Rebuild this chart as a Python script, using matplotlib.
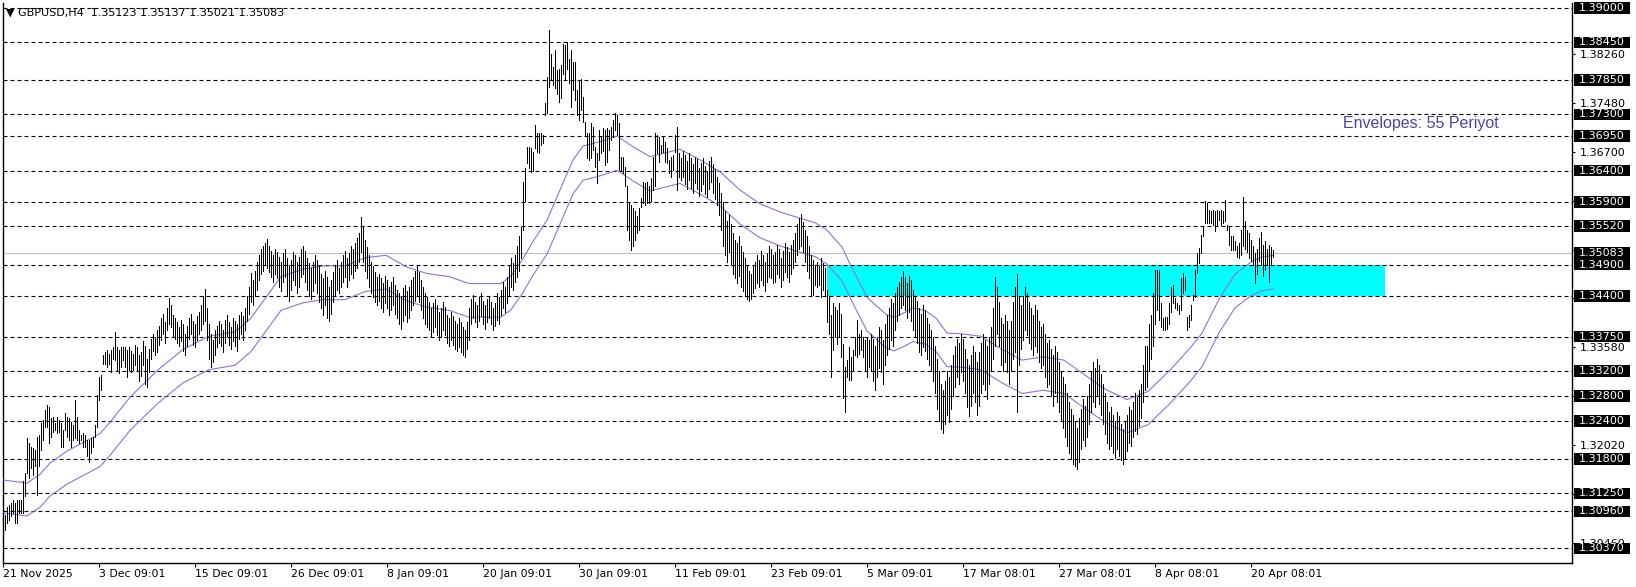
import numpy as np
import matplotlib
matplotlib.use('Agg')
import matplotlib.pyplot as plt
from matplotlib.patches import Rectangle
from matplotlib.transforms import blended_transform_factory

plt.rcParams['font.family'] = ['DejaVu Sans']

# --- data (prices in 1e-4 units, one entry per H4 bar) ---
bar_high = [
    13093, 13090, 13103, 13106, 13109, 13114, 13109, 13114, 13114, 13114,
    13144, 13157, 13213, 13205, 13199, 13197, 13194, 13215, 13218, 13237,
    13242, 13258, 13266, 13263, 13245, 13247, 13237, 13247, 13242, 13237,
    13226, 13253, 13247, 13245, 13239, 13234, 13274, 13247, 13226, 13218,
    13221, 13218, 13210, 13210, 13213, 13215, 13234, 13282, 13311, 13314,
    13346, 13351, 13354, 13348, 13354, 13359, 13383, 13359, 13354, 13359,
    13359, 13359, 13354, 13359,
    13352, 13348, 13362, 13358, 13345, 13350, 13368, 13360, 13340, 13355, 13372, 13380, 13375, 13385, 13392,
    13405, 13412, 13398, 13420, 13437, 13425, 13410,
    13405, 13398, 13390, 13402, 13395, 13380, 13392, 13405, 13412, 13400, 13395, 13408, 13415,
    13425, 13440, 13451, 13420, 13395, 13380, 13370,
    13385, 13392, 13400, 13395, 13385, 13402, 13410, 13398, 13390, 13405, 13400, 13395, 13410, 13415, 13408,
    13420, 13440, 13455, 13476, 13465, 13480, 13495,
    13505, 13515, 13520, 13525, 13531, 13520, 13512, 13505, 13515,
    13510, 13502, 13495, 13508, 13515, 13500, 13490, 13498, 13510, 13505, 13495, 13502, 13515, 13520, 13512,
    13500, 13492, 13485, 13495, 13505, 13498,
    13488, 13475, 13468, 13480, 13470, 13455, 13465, 13478,
    13490, 13498, 13485, 13495, 13505, 13512, 13500, 13508, 13520, 13515, 13525, 13532, 13540, 13566, 13550,
    13530, 13518, 13505, 13495, 13488, 13478, 13470, 13475,
    13468, 13460, 13472, 13465, 13455, 13462, 13470, 13458, 13450,
    13445, 13440, 13452, 13458, 13448, 13455, 13465, 13470,
    13480, 13488, 13478, 13465, 13455, 13445, 13438,
    13430, 13420, 13428, 13435, 13425, 13415, 13420, 13430, 13422, 13410, 13405, 13415, 13408, 13400,
    13395, 13405, 13398, 13390, 13385, 13398, 13420,
    13435, 13442, 13430, 13425, 13438, 13445, 13432, 13425, 13435, 13440, 13430, 13420, 13428, 13445, 13438,
    13450, 13462, 13455, 13470, 13488, 13500, 13492, 13505, 13520, 13535, 13550,
    13622, 13644, 13678, 13678, 13676, 13670, 13713, 13700, 13700, 13700,
    13697, 13748, 13790, 13865, 13827, 13806, 13833, 13801, 13803, 13809,
    13843, 13841, 13846, 13819, 13833, 13814, 13814, 13769, 13785, 13787,
    13758, 13718, 13700, 13700, 13716, 13710, 13678, 13668, 13705, 13694,
    13708, 13705, 13708, 13705, 13710, 13721, 13732, 13729, 13716, 13662,
    13662, 13646, 13615, 13590, 13585, 13580, 13575, 13567, 13580, 13596,
    13622, 13620, 13622, 13615, 13628, 13662, 13700, 13697, 13694, 13681,
    13694, 13686, 13676, 13657, 13662, 13665, 13697, 13710, 13668,
    13660, 13672, 13665, 13655, 13668, 13660, 13650, 13662, 13658, 13645,
    13652, 13660, 13648, 13640, 13655, 13662, 13650, 13642, 13630, 13620,
    13605, 13590, 13575, 13560, 13570, 13555, 13540, 13530, 13525, 13535,
    13520, 13510, 13500, 13490, 13480, 13475, 13488, 13495, 13505, 13498,
    13512, 13505, 13495, 13508, 13520, 13515, 13505, 13510, 13522, 13515,
    13500, 13512, 13525, 13518, 13510, 13522, 13530, 13540, 13555, 13565,
    13571, 13558, 13545, 13535, 13520,
    13505, 13498, 13490, 13495, 13488, 13500, 13492, 13485,
    13450, 13440, 13410, 13428, 13423, 13418, 13428, 13412, 13364, 13327, 13338,
    13359, 13343, 13354, 13375, 13402, 13380, 13386, 13375, 13370, 13375, 13370,
    13380, 13372, 13360, 13375, 13390, 13385, 13370, 13395, 13410, 13420,
    13435, 13428, 13445, 13455, 13462, 13470, 13480, 13470, 13460, 13472,
    13465, 13450, 13440, 13432, 13420, 13412, 13425, 13418, 13405, 13395,
    13385, 13375, 13360, 13340, 13320, 13300, 13290, 13305, 13320, 13310,
    13330, 13345, 13360, 13372, 13365, 13380, 13372, 13355, 13340, 13330,
    13345, 13360, 13350, 13335, 13350, 13365, 13380, 13370, 13360, 13375,
    13390, 13420, 13470, 13455, 13430, 13405, 13395, 13410, 13400, 13385,
    13400, 13430, 13455, 13475, 13440, 13425, 13440, 13455, 13445, 13430,
    13420, 13410, 13425, 13418, 13400, 13390, 13395, 13380, 13365, 13370,
    13355, 13345, 13360, 13350, 13335, 13320, 13310, 13300, 13285, 13270,
    13260, 13250, 13240, 13230, 13245, 13260, 13275, 13265, 13280, 13300,
    13320, 13335, 13325, 13340, 13330, 13315, 13300, 13285, 13270, 13255,
    13262, 13250, 13240, 13255, 13248, 13235, 13228, 13240, 13250, 13262,
    13258, 13270, 13285, 13278, 13290, 13300, 13330, 13360,
    13360, 13395, 13410, 13444, 13481, 13482, 13481, 13428, 13405, 13407,
    13407, 13428, 13455, 13457, 13436, 13428, 13425, 13468, 13476, 13471,
    13407, 13410, 13425, 13441, 13481, 13508, 13516, 13537, 13551, 13591,
    13589, 13577, 13575, 13577, 13575, 13577, 13575, 13577, 13575, 13593,
    13553, 13551, 13535, 13535, 13527, 13519, 13525, 13545, 13598, 13560,
    13545, 13540, 13530, 13520, 13509, 13515, 13533, 13542, 13521, 13527,
    13515, 13521, 13518, 13514,
]
bar_low = [
    13040, 13066, 13077, 13082, 13088, 13093, 13077, 13077, 13093, 13093,
    13093, 13120, 13157, 13149, 13165, 13154, 13168, 13122, 13168, 13194,
    13210, 13231, 13231, 13205, 13215, 13223, 13226, 13221, 13223, 13199,
    13199, 13226, 13215, 13210, 13199, 13210, 13213, 13210, 13205, 13210,
    13199, 13199, 13184, 13175, 13189, 13199, 13215, 13231, 13274, 13290,
    13332, 13332, 13327, 13332, 13319, 13340, 13338, 13322, 13317, 13327,
    13338, 13327, 13311, 13322,
    13318, 13322, 13330, 13320, 13305, 13312, 13330, 13300, 13295, 13318, 13340, 13352, 13345, 13350, 13362,
    13370, 13380, 13365, 13385, 13395, 13390, 13375,
    13372, 13365, 13360, 13368, 13352, 13345, 13360, 13372, 13380, 13362, 13358, 13370, 13380,
    13385, 13395, 13400, 13370, 13340, 13327, 13335,
    13345, 13358, 13365, 13360, 13350, 13365, 13375, 13362, 13355, 13368, 13360, 13352, 13372, 13380, 13370,
    13385, 13400, 13412, 13430, 13425, 13440, 13450,
    13465, 13475, 13480, 13490, 13485, 13478, 13470, 13462, 13475,
    13468, 13455, 13448, 13462, 13470, 13440, 13432, 13450, 13465, 13458, 13445, 13455, 13470, 13475, 13462,
    13450, 13440, 13435, 13448, 13460, 13445,
    13430, 13420, 13410, 13425, 13405, 13400, 13412, 13430,
    13440, 13450, 13445, 13455, 13462, 13470, 13455, 13465, 13475, 13468, 13480, 13485, 13495, 13510, 13495,
    13480, 13468, 13455, 13445, 13438, 13430, 13425, 13432,
    13420, 13415, 13428, 13420, 13410, 13418, 13425, 13412, 13405,
    13395, 13388, 13400, 13410, 13398, 13405, 13418, 13425,
    13432, 13440, 13430, 13418, 13405, 13395, 13390,
    13385, 13375, 13382, 13390, 13378, 13370, 13375, 13385, 13378, 13365, 13360, 13370, 13362, 13355,
    13352, 13358, 13350, 13345, 13342, 13355, 13370,
    13395, 13405, 13398, 13390, 13400, 13408, 13395, 13388, 13398, 13405, 13395, 13385, 13392, 13402, 13395,
    13410, 13420, 13415, 13428, 13440, 13455, 13450, 13462, 13470, 13480, 13500,
    13545, 13591, 13652, 13644, 13638, 13640, 13676, 13670, 13668, 13681,
    13684, 13729, 13732, 13774, 13785, 13777, 13772, 13763, 13750, 13756,
    13795, 13785, 13803, 13780, 13742, 13769, 13753, 13729, 13721, 13737,
    13718, 13697, 13660, 13657, 13660, 13673, 13646, 13620, 13657, 13668,
    13671, 13649, 13654, 13673, 13689, 13694, 13705, 13697, 13641, 13641,
    13636, 13615, 13545, 13530, 13513, 13520, 13530, 13540, 13545, 13582,
    13588, 13585, 13588, 13588, 13591, 13609, 13615, 13668, 13654, 13668,
    13670, 13654, 13652, 13636, 13630, 13641, 13670, 13609, 13630,
    13625, 13630, 13618, 13610, 13625, 13612, 13605, 13620, 13610, 13600,
    13608, 13618, 13602, 13598, 13610, 13622, 13605, 13595, 13585, 13570,
    13545, 13520, 13505, 13495, 13510, 13490, 13475, 13468, 13460, 13472,
    13455, 13448, 13440, 13435, 13432, 13435, 13445, 13452, 13460, 13455,
    13465, 13458, 13448, 13462, 13470, 13468, 13460, 13462, 13475, 13468,
    13455, 13465, 13478, 13470, 13462, 13475, 13485, 13495, 13505, 13515,
    13520, 13510, 13495, 13480, 13468,
    13441, 13441, 13457, 13455, 13457, 13439, 13450, 13441,
    13399, 13380, 13311, 13354, 13375, 13364, 13375, 13343, 13277, 13255, 13311,
    13306, 13306, 13322, 13346, 13343, 13348, 13354, 13343, 13322, 13311, 13327,
    13320, 13305, 13290, 13310, 13325, 13318, 13300, 13330, 13345, 13355,
    13370, 13360, 13385, 13400, 13410, 13420, 13425, 13418, 13405, 13415,
    13400, 13385, 13375, 13365, 13350, 13345, 13358, 13352, 13340, 13330,
    13320, 13305, 13285, 13260, 13240, 13228, 13222, 13235, 13250, 13238,
    13260, 13280, 13295, 13310, 13300, 13318, 13305, 13285, 13262, 13248,
    13265, 13285, 13270, 13250, 13265, 13285, 13300, 13290, 13275, 13300,
    13320, 13340, 13360, 13380, 13360, 13330, 13320, 13335, 13318, 13300,
    13320, 13340, 13350, 13255, 13330, 13355, 13370, 13385, 13378, 13365,
    13355, 13345, 13360, 13350, 13335, 13325, 13330, 13310, 13295, 13300,
    13280, 13265, 13285, 13270, 13255, 13240, 13230, 13215, 13200, 13190,
    13180, 13172, 13168, 13163, 13175, 13195, 13210, 13200, 13215, 13235,
    13255, 13270, 13262, 13280, 13268, 13250, 13235, 13220, 13205, 13195,
    13200, 13190, 13182, 13195, 13185, 13178, 13172, 13180, 13192, 13205,
    13200, 13215, 13225, 13220, 13232, 13245, 13270, 13290,
    13295, 13320, 13340, 13360, 13395, 13418, 13402, 13390, 13386, 13386,
    13388, 13396, 13415, 13428, 13420, 13418, 13412, 13418, 13444, 13450,
    13386, 13391, 13401, 13433, 13439, 13476, 13492, 13508, 13535, 13556,
    13556, 13556, 13556, 13553, 13543, 13553, 13561, 13553, 13556, 13559,
    13545, 13521, 13513, 13513, 13513, 13503, 13500, 13505, 13520, 13515,
    13510, 13500, 13496, 13490, 13460, 13475, 13496, 13490, 13472, 13481,
    13490, 13463, 13490, 13502,
]

# Envelopes(55) middle line, read at bar positions
env_idx = [0, 12, 18.5, 23.5, 32, 42, 48.5, 53.5, 63.5, 77, 90, 103, 116, 124,
           131.5, 139, 150, 160, 171, 181, 191.5, 202, 212, 223, 233, 249, 254,
           259.5, 265, 272, 278.5, 285, 290, 298.5, 307, 315, 323.5, 338.5,
           348.5, 358.5, 368.5, 378.5, 388.5, 398.5, 406, 412, 419.5, 424.5,
           432, 441.5, 445.5, 451, 455, 461, 466.5, 472, 478.5, 489, 499.5,
           509.5, 520, 530.5, 541, 551.5, 562, 572.5, 583.5, 593.5, 599.5, 608,
           616, 623.5, 629, 635]
env_mid = [13120, 13115, 13129, 13147, 13166, 13183, 13194, 13212, 13252, 13294,
           13328, 13349, 13356, 13378, 13411, 13444, 13456, 13461, 13461, 13474,
           13478, 13459, 13449, 13444, 13433, 13433, 13445, 13470, 13500, 13534,
           13582, 13630, 13652, 13659, 13668, 13651, 13635, 13647, 13630, 13611,
           13582, 13560, 13547, 13537, 13530, 13518, 13491, 13458, 13411, 13384,
           13379, 13387, 13394, 13390, 13378, 13354, 13353, 13349, 13328, 13311,
           13316, 13311, 13287, 13264, 13248, 13261, 13295, 13330, 13354, 13408,
           13448, 13466, 13475, 13478]
env_dev = 0.20  # percent

levels = [1.39000, 1.38450, 1.37850, 1.37300, 1.36950, 1.36400, 1.35900, 1.35520,
          1.34900, 1.34400, 1.33750, 1.33200, 1.32800, 1.32400, 1.31800, 1.31250,
          1.30960, 1.30370]
axis_ticks = [1.38260, 1.37480, 1.36700, 1.35920, 1.35140, 1.34360, 1.33580,
              1.32800, 1.32020, 1.31240, 1.30460]
last_price = 1.35083
zone = (1.34400, 1.34900)
zone_bars = (412, 691)

date_labels = ['21 Nov 2025', '3 Dec 09:01', '15 Dec 09:01', '26 Dec 09:01',
               '8 Jan 09:01', '20 Jan 09:01', '30 Jan 09:01', '11 Feb 09:01',
               '23 Feb 09:01', '5 Mar 09:01', '17 Mar 08:01', '27 Mar 08:01',
               '8 Apr 08:01', '20 Apr 08:01']
bars_per_label = 48

W, H = 1636, 587
fig = plt.figure(figsize=(W / 100, H / 100), dpi=100)
ax = fig.add_axes([2.5 / W, 24 / H, 1569.5 / W, 560 / H])

highs = np.array(bar_high) / 1e4
lows = np.array(bar_low) / 1e4
x = np.arange(len(highs))

ax.set_xlim(-0.25, 784.5)
ax.set_ylim(1.30137, 1.39077)

# support zone
ax.add_patch(Rectangle((zone_bars[0], zone[0]), zone_bars[1] - zone_bars[0],
                       zone[1] - zone[0], facecolor='#00ffff', edgecolor='none', zorder=1))

for lv in levels:
    ax.axhline(lv, color='black', lw=0.8, ls=(0, (3.6, 2.7)), zorder=2)
ax.axhline(last_price, color='#c0c0c0', lw=0.8, zorder=2)

# envelope bands
mid = np.array(env_mid) / 1e4
ax.plot(env_idx, mid * (1 + env_dev / 100), color='#9370db', lw=0.8, zorder=3)
ax.plot(env_idx, mid * (1 - env_dev / 100), color='#9370db', lw=0.8, zorder=3)

# bars: plain high-low lines, 1px wide
ax.vlines(x, lows, highs, colors='black', linewidth=0.5, antialiased=False, zorder=4)

fig.text(1343 / W, 1 - 123 / H, 'Envelopes: 55 Periyot', color='#4a44a8',
         fontsize=11.5, family=['Liberation Sans', 'DejaVu Sans'], va='center', ha='left')
fig.text(6 / W, 1 - 12.5 / H, '\u25bc GBPUSD,H4  1.35123 1.35137 1.35021 1.35083',
         fontsize=8, va='center', ha='left', color='black')

# axes frame
for side in ['left', 'right', 'bottom']:
    ax.spines[side].set_linewidth(1.0)
    ax.spines[side].set_color('black')
ax.spines['top'].set_visible(False)

# scale ticks; the ones sitting under a level box stay unlabelled
hidden = {1.35920, 1.35140, 1.34360, 1.32800, 1.31240}
ax.yaxis.tick_right()
ax.set_yticks(axis_ticks)
ax.set_yticklabels(['' if t in hidden else '%.5f' % t for t in axis_ticks])
ax.tick_params(axis='y', length=2.5, width=0.8, pad=3, labelsize=8, colors='black')

ax.set_xticks(np.arange(len(date_labels)) * bars_per_label)
ax.set_xticklabels(date_labels, ha='left')
ax.tick_params(axis='x', length=3, width=0.8, pad=1.5, labelsize=7.8)

# price labels with black boxes
trans = blended_transform_factory(fig.transFigure, ax.transData)
ppu = 560 / (1.39077 - 1.30137)
box_h = 11.5 / ppu
for lv in levels + [last_price]:
    ax.add_patch(Rectangle((1574 / W, lv - box_h / 2), 56 / W, box_h, transform=trans,
                           facecolor='black', edgecolor='none', clip_on=False, zorder=6))
    ax.text(1579 / W, lv, '%.5f' % lv, transform=trans, color='white', fontsize=8,
            va='center', ha='left', clip_on=False, zorder=7)

fig.savefig('out.png', dpi=100, facecolor='white')
